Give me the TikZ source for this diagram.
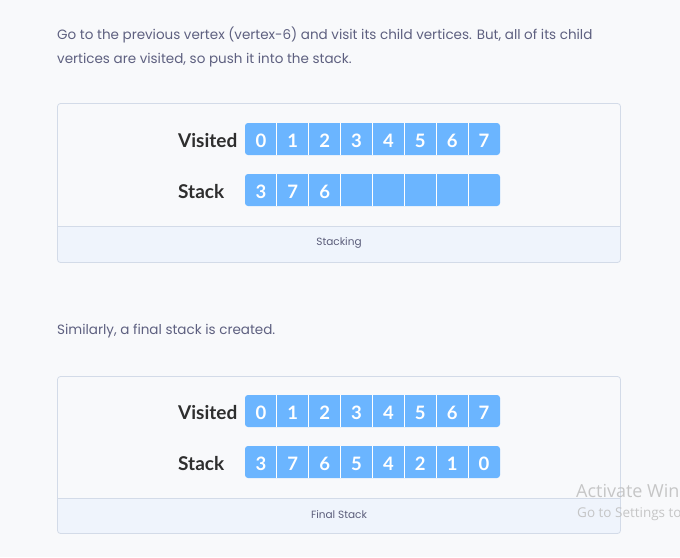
\documentclass[tikz,border=0pt]{standalone}
\usepackage{fontspec}
\setmainfont{Poppins}
\newfontfamily\latofont{Lato}
\newfontfamily\wmfont{Open Sans}
\definecolor{bg}{HTML}{F8F9FB}
\definecolor{para}{HTML}{5E6080}
\definecolor{boxline}{HTML}{D3DBE8}
\definecolor{capfill}{HTML}{EFF4FC}
\definecolor{cellblue}{HTML}{6BB5FF}
\definecolor{labdark}{HTML}{2E2E2E}
\definecolor{capt}{HTML}{5B5D7A}
\definecolor{wm}{HTML}{BDBDBD}
\tikzset{
  paratext/.style={anchor=base west, inner sep=0, text=para, font=\fontsize{13.5}{16}\selectfont},
  rowlabel/.style={anchor=base west, inner sep=0, text=labdark, font=\latofont\bfseries\fontsize{19}{22}\selectfont},
  digit/.style={anchor=base, inner sep=0, text=white, font=\latofont\bfseries\fontsize{18.5}{20}\selectfont},
  captext/.style={inner sep=0, text=capt, font=\fontsize{10.5}{12}\selectfont},
  panel/.style={draw=boxline, line width=0.8pt, rounded corners=3pt},
  wmtext/.style={anchor=base west, inner sep=0, text=wm, font=\wmfont},
}
\newcommand{\cellrow}[3]{% name, top y, list
  \fill[cellblue, rounded corners=3pt] (245,#2) rectangle (500,#2+32);
  \foreach \k in {1,...,7}{\draw[white, line width=0.9pt] (245+31.875*\k,#2) -- (245+31.875*\k,#2+32);}
  \foreach \v [count=\i from 0] in {#3}{\node[digit] (#1\i) at (245+31.875*\i+15.94,#2+24) {\v};}
}
\begin{document}
\begin{tikzpicture}[x=1pt,y=-1pt]
\path[use as bounding box, fill=bg] (0,0) rectangle (680,557);
\clip (0,0) rectangle (680,557);

\node[paratext] (p1) at (57,39) {Go to the previous vertex (vertex-6) and visit its child vertices. But, all of its child};
\node[paratext] (p2) at (57,63) {vertices are visited, so push it into the stack.};

% panel 1
\fill[bg, rounded corners=3pt] (57.5,103.5) rectangle (620.5,262.5);
\fill[capfill, rounded corners=3pt] (57.5,226.5) rectangle (620.5,262.5);
\fill[capfill] (57.5,226.5) rectangle (620.5,240);
\draw[boxline, line width=0.8pt] (57.5,226.5) -- (620.5,226.5);
\draw[panel] (57.5,103.5) rectangle (620.5,262.5);
\node[rowlabel] (vl1) at (178,147) {Visited};
\node[rowlabel] (sl1) at (178,198) {Stack};
\cellrow{va}{123}{0,1,2,3,4,5,6,7}
\cellrow{sa}{174}{3,7,6,{},{},{},{},{}}
\node[captext] (c1) at (339,243) {Stacking};

\node[paratext] (p3) at (57,334) {Similarly, a final stack is created.};

% panel 2
\fill[bg, rounded corners=3pt] (57.5,376.5) rectangle (620.5,533.5);
\fill[capfill, rounded corners=3pt] (57.5,498.5) rectangle (620.5,533.5);
\fill[capfill] (57.5,498.5) rectangle (620.5,512);
\draw[boxline, line width=0.8pt] (57.5,498.5) -- (620.5,498.5);
\draw[panel] (57.5,376.5) rectangle (620.5,533.5);
\node[rowlabel] (vl2) at (178,419) {Visited};
\node[rowlabel] (sl2) at (178,470) {Stack};
\cellrow{vb}{395}{0,1,2,3,4,5,6,7}
\cellrow{sb}{446}{3,7,6,5,4,2,1,0}
\node[captext] (c2) at (339,515) {Final Stack};

% watermark (cut at the right edge, as in the screenshot)
\node[wmtext, font=\wmfont\fontsize{18}{20}\selectfont, opacity=0.85] (w1) at (576,497) {Activate Windows};
\node[wmtext, font=\wmfont\fontsize{13.5}{16}\selectfont, opacity=0.85] (w2) at (577,517) {Go to Settings to activate Windows.};
\end{tikzpicture}
\end{document}
